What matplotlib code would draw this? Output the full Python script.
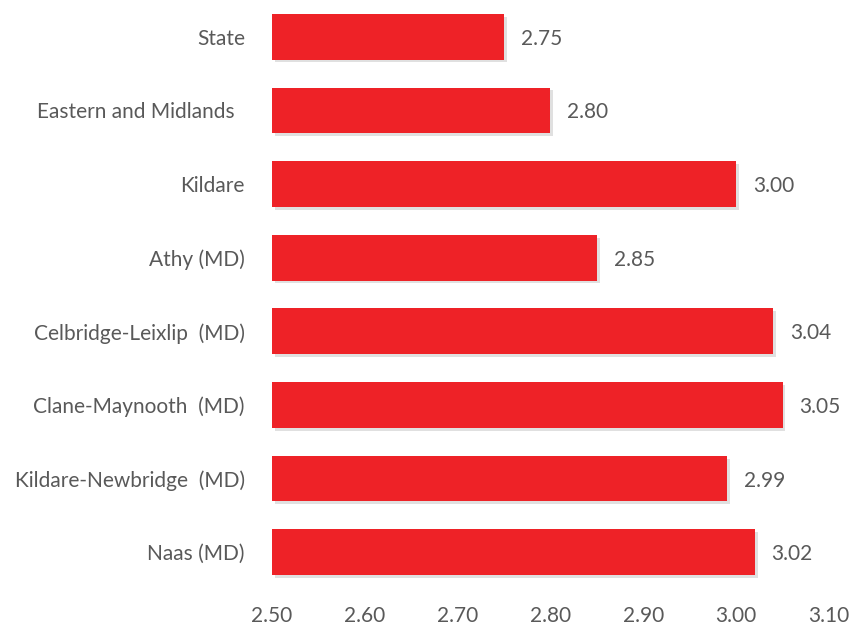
import matplotlib
matplotlib.use("Agg")
import matplotlib.pyplot as plt
import matplotlib.patheffects as pe

areas = ["State", "Eastern and Midlands  ", "Kildare", "Athy (MD)",
         "Celbridge-Leixlip  (MD)", "Clane-Maynooth  (MD)",
         "Kildare-Newbridge  (MD)", "Naas (MD)"]
values = [2.75, 2.80, 3.00, 2.85, 3.04, 3.05, 2.99, 3.02]
xticks = [2.50, 2.60, 2.70, 2.80, 2.90, 3.00, 3.10]

plt.rcParams['font.family'] = ['Lato', 'DejaVu Sans']
text_color = "#595959"
bar_color = "#EE2227"
fs = 15

fig = plt.figure(figsize=(8.49, 6.28), dpi=100)
ax = fig.add_axes([272 / 849, 1 - 589 / 628, (829 - 272) / 849, (589 - 0) / 628])

y = list(range(len(areas)))
base = xticks[0]
bars = ax.barh(y, [v - base for v in values], left=base, height=0.62,
               color=bar_color, zorder=3)
for b in bars:
    b.set_path_effects([pe.SimplePatchShadow(offset=(2, -2), shadow_rgbFace="#000000", alpha=0.12),
                        pe.Normal()])

for yi, v in zip(y, values):
    ax.text(v + 0.018, yi, f"{v:.2f}", va="center_baseline", ha="left",
            fontsize=fs, color=text_color)

ax.set_xlim(xticks[0], xticks[-1])
ax.set_ylim(len(areas) - 0.5, -0.5)
ax.set_yticks(y)
ax.set_yticklabels(areas, fontsize=fs, color=text_color, va="center_baseline")
ax.set_xticks(xticks)
ax.set_xticklabels([f"{t:.2f}" for t in xticks], fontsize=fs, color=text_color)
ax.tick_params(axis="both", length=0)
ax.tick_params(axis="y", pad=19.5)
ax.tick_params(axis="x", pad=12)
for s in ax.spines.values():
    s.set_visible(False)

fig.savefig("out.png", dpi=100, facecolor="white")
